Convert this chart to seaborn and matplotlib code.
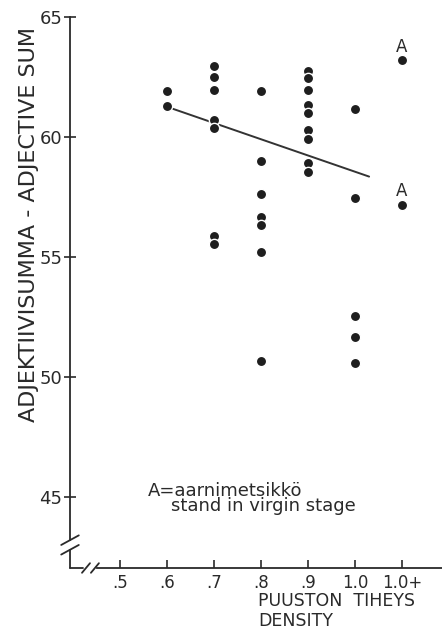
import numpy as np
import pandas as pd
import matplotlib
matplotlib.use("Agg")
import matplotlib.pyplot as plt
import seaborn as sns

# ---- data ----
tick_pos = [0.5, 0.6, 0.7, 0.8, 0.9, 1.0, 1.1]
tick_labels = [".5", ".6", ".7", ".8", ".9", "1.0", "1.0+"]
y_ticks = [45, 50, 55, 60, 65]

x_06 = [0.6, 0.6]
y_06 = [61.93, 61.3]
x_07 = [0.7] * 7
y_07 = [62.96, 62.51, 61.94, 60.71, 60.38, 55.87, 55.53]
x_08 = [0.8] * 7
y_08 = [61.92, 59.0, 57.63, 56.68, 56.33, 55.19, 50.65]
x_09 = [0.9] * 9
y_09 = [62.76, 62.44, 61.94, 61.35, 61.01, 60.29, 59.9, 58.9, 58.55]
x_10 = [1.0] * 5
y_10 = [61.15, 57.47, 52.54, 51.67, 50.58]
x_virgin = [1.1, 1.1]
y_virgin = [63.2, 57.18]

line_x = [0.606, 1.03]
line_y = [61.22, 58.35]

df = pd.DataFrame({
    "x": x_06 + x_07 + x_08 + x_09 + x_10 + x_virgin,
    "y": y_06 + y_07 + y_08 + y_09 + y_10 + y_virgin,
})
line_df = pd.DataFrame({"x": line_x, "y": line_y})

sns.set_style("ticks")
plt.rcParams["font.family"] = ["DejaVu Sans"]
ink = "#2a2a2a"

W, H = 442, 632
fig = plt.figure(figsize=(W / 100, H / 100), dpi=100)
ax = fig.add_axes([70 / W, (H - 568) / H, (W - 70) / W, (568 - 17) / H])

xlim = (0.394, 1.185)
ylim = (42.04, 65.0)

sns.lineplot(data=line_df, x="x", y="y", ax=ax, color="#333333", lw=1.4, zorder=1)
sns.scatterplot(data=df, x="x", y="y", ax=ax, color="#1e1e1e", s=55,
                edgecolor="white", linewidth=1.0, zorder=3)

for yv in y_virgin:
    ax.annotate("A", (1.1, yv), xytext=(0, 9.5), textcoords="offset points",
                ha="center", va="center", fontsize=12, color=ink)

ax.set_xlim(*xlim)
ax.set_ylim(*ylim)
ax.set_xticks(tick_pos)
ax.set_xticklabels(tick_labels)
ax.set_yticks(y_ticks)
ax.set_xlabel("")
ax.set_ylabel("")

ax.tick_params(axis="x", direction="in", length=6, width=1.2, colors=ink,
               labelsize=12, pad=4)
ax.tick_params(axis="y", direction="inout", length=9, width=1.2, colors=ink,
               labelsize=13, pad=1)

for s in ["top", "right"]:
    ax.spines[s].set_visible(False)
for s in ["left", "bottom"]:
    ax.spines[s].set_color(ink)
    ax.spines[s].set_linewidth(1.3)
ax.spines["left"].set_bounds(43.2, 65)
ax.spines["bottom"].set_bounds(0.452, xlim[1])

# axis break decorations
dx = 0.0085
dy = 0.2
kw = dict(color=ink, lw=1.3, clip_on=False, zorder=5)
x0 = xlim[0]
y0 = ylim[0]
ax.plot([x0, x0], [y0, 42.8], **kw)
ax.plot([x0, 0.422], [y0, y0], **kw)
for yb in (43.2, 42.8):
    ax.plot([x0 - 2.2 * dx, x0 + 2.2 * dx], [yb - dy, yb + dy], **kw)
for xb in (0.428, 0.447):
    ax.plot([xb - dx, xb + dx], [y0 - dy, y0 + dy], **kw)

# note
fig.text(148 / W, 1 - 482 / H, "A=aarnimetsikkö\n    stand in virgin stage",
         fontsize=13, color=ink, ha="left", va="top", linespacing=0.8)

# axis titles
fig.text(29 / W, 1 - 224 / H, "ADJEKTIIVISUMMA - ADJECTIVE SUM", rotation=90,
         ha="center", va="center", fontsize=16, color=ink)
fig.text(258 / W, 1 - 592 / H, "PUUSTON  TIHEYS", ha="left", va="top",
         fontsize=12.5, color=ink)
fig.text(258 / W, 1 - 612 / H, "DENSITY", ha="left", va="top",
         fontsize=12.5, color=ink)

fig.savefig("out.png", dpi=100, facecolor="white")
